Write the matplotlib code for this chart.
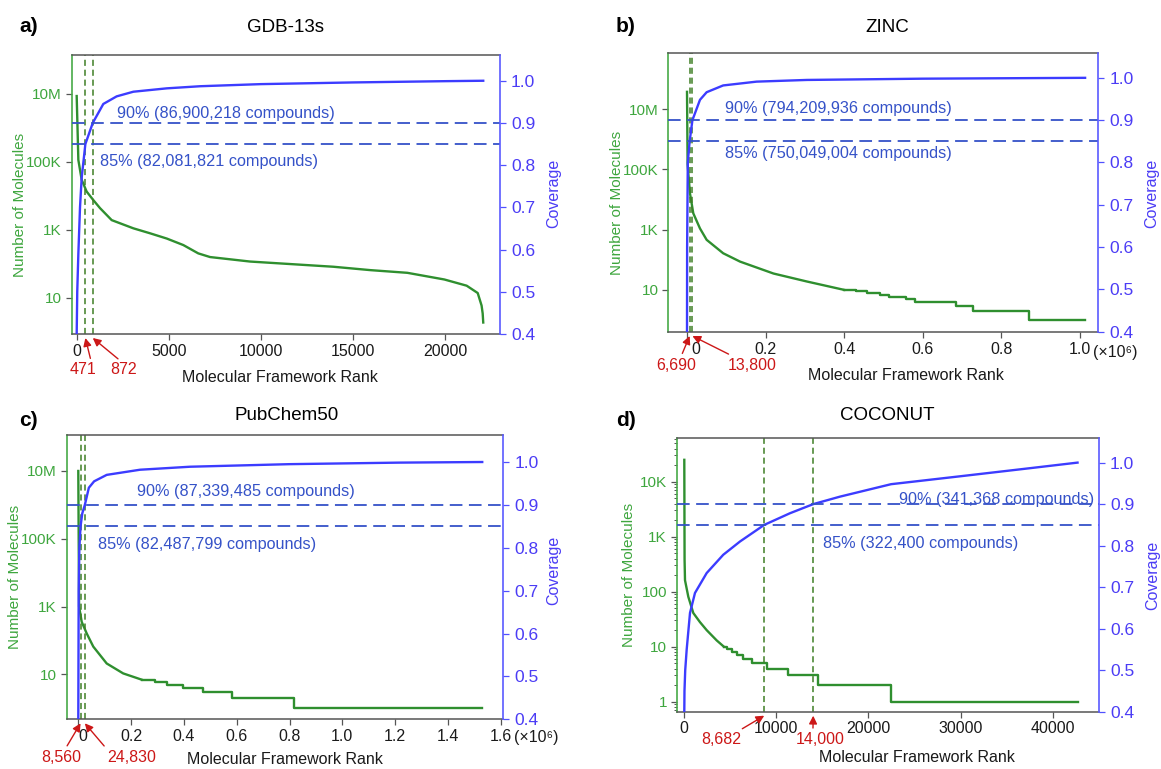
import matplotlib.pyplot as plt
from matplotlib.ticker import NullLocator, LogLocator, NullFormatter
from matplotlib.transforms import ScaledTranslation

plt.rcParams['font.family'] = ['Liberation Sans', 'DejaVu Sans']
plt.rcParams['font.size'] = 12

GREEN = '#2f8f2f'
GREEN_TXT = '#3ea63e'
GREEN_VL = '#3f7f25'
BLUE = '#3c3cff'
BLUE_TXT = '#4b3cf5'
BLUE_HL = '#3552c8'
RED = '#cc1717'
GREY = '#555555'

# -------------------------------------------------
# data
# -------------------------------------------------
# a) GDB-13s
gdb_rank = [0, 90, 270, 540, 900, 1265, 1900, 3075, 3980, 4890, 5790, 6600, 7240,
            9410, 13930, 15940, 17950, 19960, 21170, 21770, 21980, 22040, 22070]
gdb_count = [8.7e6, 1.15e5, 3.0e4, 1.35e4, 7600, 4400, 1950, 1120, 800, 560, 360, 205, 160,
             118, 83, 66, 55, 35, 23, 14, 6, 3.5, 1.9]
gdb_cov_rank = [0, 30, 90, 180, 270, 471, 872, 1445, 2170, 3075, 4890, 6700, 10000, 15000, 20000, 22070]
gdb_cov = [0.40, 0.50, 0.59, 0.70, 0.77, 0.85, 0.90, 0.945, 0.963, 0.974, 0.982, 0.987, 0.992, 0.996, 0.999, 1.0]
gdb_cuts = [471, 872]
gdb_cut_labels = ['471', '872']
gdb_notes = ['90% (86,900,218 compounds)', '85% (82,081,821 compounds)']

# b) ZINC
zinc_rank = [0, 1500, 7600, 16000, 33000, 50000, 92000, 135000, 220000, 305000, 400000]
zinc_count = [3.8e7, 1.5e5, 1.6e4, 3500, 1100, 460, 165, 87, 35, 19, 10]
zinc_step_rank = [400000, 430000, 458000, 490000, 514000, 557000, 580000, 685000, 728600, 871000, 1013000]
zinc_step_count = [10, 9, 8, 7, 6, 5, 4, 3, 2, 1, 1]
zinc_cov_rank = [0, 300, 2000, 6690, 13800, 33000, 50000, 92000, 177000, 305000, 600000, 1013000]
zinc_cov = [0.40, 0.60, 0.80, 0.85, 0.90, 0.948, 0.966, 0.982, 0.991, 0.995, 0.998, 1.0]
zinc_cuts = [6690, 13800]
zinc_cut_labels = ['6,690', '13,800']
zinc_notes = ['90% (794,209,936 compounds)', '85% (750,049,004 compounds)']

# c) PubChem50
pub_rank = [0, 3000, 12900, 31800, 56800, 107600, 170000, 240000]
pub_count = [1.0e7, 1000, 355, 162, 66, 21, 10.7, 7]
pub_step_rank = [240000, 292000, 337000, 397000, 474000, 582000, 818000, 1530000]
pub_step_count = [7, 6, 5, 4, 3, 2, 1, 1]
pub_cov_rank = [0, 1500, 4000, 8560, 15000, 24830, 40000, 60000, 107600, 233700, 423000, 800000, 1218000, 1530000]
pub_cov = [0.40, 0.70, 0.80, 0.85, 0.88, 0.90, 0.94, 0.955, 0.970, 0.982, 0.989, 0.995, 0.9986, 1.0]
pub_cuts = [8560, 24830]
pub_cut_labels = ['8,560', '24,830']
pub_notes = ['90% (87,339,485 compounds)', '85% (82,487,799 compounds)']

# d) COCONUT
coco_rank = [0, 30, 76, 435, 977, 1700, 2430, 3520, 4300]
coco_count = [25000, 380, 162, 81, 41, 28, 20, 13, 10]
coco_step_rank = [4300, 4600, 5150, 5700, 6400, 7300, 8950, 11300, 14550, 22450, 42700]
coco_step_count = [10, 9, 8, 7, 6, 5, 4, 3, 2, 1, 1]
coco_cov_rank = [0, 20, 100, 260, 620, 1160, 2430, 4230, 6050, 8682, 11470, 14000, 16900, 22450, 29930, 36930, 42700]
coco_cov = [0.40, 0.45, 0.50, 0.55, 0.638, 0.686, 0.734, 0.778, 0.81, 0.85, 0.878, 0.90, 0.918, 0.948, 0.967, 0.985, 1.0]
coco_cuts = [8682, 14000]
coco_cut_labels = ['8,682', '14,000']
coco_notes = ['90% (341,368 compounds)', '85% (322,400 compounds)']

cov_ticks = [0.4, 0.5, 0.6, 0.7, 0.8, 0.9, 1.0]
cov_levels = [0.9, 0.85]

# -------------------------------------------------
# figure, laid out in pixels of the 1161x769 canvas
# -------------------------------------------------
W, H = 1161, 769
fig = plt.figure(figsize=(W / 100, H / 100), dpi=100)

FS_TICK = 11.5
FS_LAB = 11.5
FS_NOTE = 11.7
FS_RED = 11.5


def draw(spec):
    l, t, r, b = spec['box']
    ax = fig.add_axes([l / W, 1 - b / H, (r - l) / W, (b - t) / H])
    ax2 = ax.twinx()
    ph = b - t

    # green: molecules per framework
    ax.set_yscale('log')
    ax.plot(spec['rank'], spec['count'], color=GREEN, lw=1.7)
    if spec['step_rank'] is not None:
        ax.step(spec['step_rank'], spec['step_count'], where='post', color=GREEN, lw=1.7)
    for c in spec['cuts']:
        ax.axvline(c, color=GREEN_VL, lw=1.1, dashes=(4, 2.5))

    # blue: cumulative coverage
    ax2.plot(spec['cov_rank'], spec['cov'], color=BLUE, lw=1.7)
    for lvl in cov_levels:
        ax2.axhline(lvl, color=BLUE_HL, lw=1.3, dashes=(7, 3.6))

    ax.set_xlim(spec['xlim'])
    ax.set_ylim(spec['ylim'])
    ax2.set_ylim(spec['ylim2'])

    ax.set_xticks(spec['xticks'])
    ax.set_xticklabels(spec['xticklabels'])
    ax.set_yticks(spec['yticks'])
    ax.set_yticklabels(spec['yticklabels'])
    if spec['minor']:
        ax.yaxis.set_minor_locator(LogLocator(base=10, subs=range(2, 10), numticks=20))
        ax.yaxis.set_minor_formatter(NullFormatter())
    else:
        ax.yaxis.set_minor_locator(NullLocator())
    ax2.set_yticks(cov_ticks)
    ax2.set_yticklabels([f'{v:.1f}' for v in cov_ticks])

    ax.tick_params(axis='x', length=4, width=0.9, color=GREY, labelcolor='#1a1a1a', pad=3, labelsize=FS_TICK)
    ax.tick_params(axis='y', which='major', length=4, width=0.9, color=GREY, labelcolor=GREEN_TXT,
                   pad=3, labelsize=11)
    ax.tick_params(axis='y', which='minor', length=2.5, width=0.7, color=GREY)
    ax2.tick_params(axis='y', length=4, width=0.9, color='#5050ff', labelcolor=BLUE_TXT, pad=4, labelsize=12.5)

    for s in ['top', 'bottom']:
        ax.spines[s].set_color(GREY)
        ax.spines[s].set_linewidth(1.1)
        ax2.spines[s].set_visible(False)
    ax.spines['right'].set_visible(False)
    ax2.spines['left'].set_visible(False)
    ax.spines['left'].set_color('#48aa48')
    ax.spines['left'].set_linewidth(1.2)
    ax2.spines['right'].set_color('#5a5aff')
    ax2.spines['right'].set_linewidth(1.2)

    # shift "0" label, add the x10^6 note
    if spec['zero_dx']:
        lab = ax.get_xticklabels()[0]
        lab.set_transform(lab.get_transform() + ScaledTranslation(spec['zero_dx'] / 100, 0, fig.dpi_scale_trans))
    if spec['scale_note']:
        ax.annotate('(×10⁶)', xy=(spec['xticks'][-1], 0), xycoords=('data', 'axes fraction'),
                    xytext=(13, spec['note_dy']), textcoords='offset pixels', ha='left', va='center',
                    fontsize=FS_TICK, color='#1a1a1a', annotation_clip=False)

    # axis labels
    ax.set_xlabel('Molecular Framework Rank', fontsize=FS_LAB, color='#1a1a1a')
    xl_x, xl_y = spec['xlabel_at']
    ax.xaxis.set_label_coords((xl_x - l) / (r - l), (b - (xl_y - 8)) / ph)
    ax.set_ylabel('Number of Molecules', fontsize=11, color=GREEN_TXT)
    yl_x, yl_y = spec['ylabel_at']
    ax.yaxis.set_label_coords((yl_x + 8 - l) / (r - l), (b - yl_y) / ph)
    ax2.set_ylabel('Coverage', fontsize=FS_LAB, color=BLUE_TXT)
    cl_x, cl_y = spec['covlabel_at']
    ax2.yaxis.set_label_coords((cl_x - 8 - l) / (r - l), (b - cl_y) / ph)

    # coverage level notes
    for note, (nx, ny) in zip(spec['notes'], spec['note_pos']):
        ax2.text(nx, ny, note, ha='left', va='center', color=BLUE_HL, fontsize=FS_NOTE)

    # red arrows to the cut-off ranks
    for c, lab, (dx, dy, rx) in zip(spec['cuts'], spec['cut_labels'], spec['arrows']):
        ax.annotate(lab, xy=(c, -4 / ph), xycoords=('data', 'axes fraction'),
                    xytext=(dx, dy), textcoords='offset pixels', ha='center', va='center',
                    color=RED, fontsize=FS_RED, annotation_clip=False,
                    arrowprops=dict(arrowstyle='-|>', color=RED, lw=1.0, mutation_scale=12,
                                    shrinkA=1, shrinkB=0, relpos=(rx, 1.0)))

    tx, ty = spec['title_at']
    fig.text(tx / W, 1 - ty / H, spec['title'], ha='center', va='center', fontsize=13.5)
    px, py = spec['panel_at']
    fig.text(px / W, 1 - py / H, spec['panel'], ha='center', va='center', fontsize=15, fontweight='bold')


panels = [
    dict(panel='a)', title='GDB-13s', box=(71.7, 55, 500, 334),
         rank=gdb_rank, count=gdb_count, step_rank=None, step_count=None,
         cov_rank=gdb_cov_rank, cov=gdb_cov, cuts=gdb_cuts, cut_labels=gdb_cut_labels, notes=gdb_notes,
         xlim=(-271, 22980), ylim=(0.873, 1.40e8), ylim2=(0.4, 1.061),
         xticks=[0, 5000, 10000, 15000, 20000], xticklabels=['0', '5000', '10000', '15000', '20000'],
         yticks=[10, 1e3, 1e5, 1e7], yticklabels=['10', '1K', '100K', '10M'], minor=False,
         zero_dx=0, scale_note=False, note_dy=0,
         note_pos=[(2170, 0.923), (1265, 0.809)],
         arrows=[(-2, -32, 0.8), (31, -32, 0.45)],
         xlabel_at=(280, 378), ylabel_at=(19, 205), covlabel_at=(554, 193),
         title_at=(285, 28), panel_at=(29, 27)),
    dict(panel='b)', title='ZINC', box=(668.3, 53.3, 1098.3, 332),
         rank=zinc_rank, count=zinc_count, step_rank=zinc_step_rank, step_count=zinc_step_count,
         cov_rank=zinc_cov_rank, cov=zinc_cov, cuts=zinc_cuts, cut_labels=zinc_cut_labels, notes=zinc_notes,
         xlim=(-47600, 1.0466e6), ylim=(0.399, 7.25e8), ylim2=(0.399, 1.058),
         xticks=[0, 2e5, 4e5, 6e5, 8e5, 1e6], xticklabels=['0', '0.2', '0.4', '0.6', '0.8', '1.0'],
         yticks=[10, 1e3, 1e5, 1e7], yticklabels=['10', '1K', '100K', '10M'], minor=False,
         zero_dx=9, scale_note=True, note_dy=-20,
         note_pos=[(0.0967e6, 0.928), (0.0967e6, 0.82)],
         arrows=[(-13, -29, 0.6), (60, -29, 0.15)],
         xlabel_at=(906, 376), ylabel_at=(616, 203), covlabel_at=(1152, 193),
         title_at=(887, 27), panel_at=(626, 27)),
    dict(panel='c)', title='PubChem50', box=(66.7, 435, 503.3, 719.3),
         rank=pub_rank, count=pub_count, step_rank=pub_step_rank, step_count=pub_step_count,
         cov_rank=pub_cov_rank, cov=pub_cov, cuts=pub_cuts, cut_labels=pub_cut_labels, notes=pub_notes,
         xlim=(-43900, 1.6098e6), ylim=(0.474, 1.15e8), ylim2=(0.4, 1.063),
         xticks=[0, 2e5, 4e5, 6e5, 8e5, 1e6, 1.2e6, 1.4e6, 1.6e6],
         xticklabels=['0', '0.2', '0.4', '0.6', '0.8', '1.0', '1.2', '1.4', '1.6'],
         yticks=[10, 1e3, 1e5, 1e7], yticklabels=['10', '1K', '100K', '10M'], minor=False,
         zero_dx=5, scale_note=True, note_dy=-18,
         note_pos=[(0.221e6, 0.931), (0.076e6, 0.807)],
         arrows=[(-19, -34, 0.58), (47, -34, 0.0)],
         xlabel_at=(285, 760), ylabel_at=(14, 577), covlabel_at=(554, 570),
         title_at=(287, 416), panel_at=(28, 421)),
    dict(panel='d)', title='COCONUT', box=(676.7, 437.7, 1099, 711.7),
         rank=coco_rank, count=coco_count, step_rank=coco_step_rank, step_count=coco_step_count,
         cov_rank=coco_cov_rank, cov=coco_cov, cuts=coco_cuts, cut_labels=coco_cut_labels, notes=coco_notes,
         xlim=(-825, 45030), ylim=(0.658, 6.31e4), ylim2=(0.401, 1.060),
         xticks=[0, 10000, 20000, 30000, 40000], xticklabels=['0', '10000', '20000', '30000', '40000'],
         yticks=[1, 10, 100, 1e3, 1e4], yticklabels=['1', '10', '100', '1K', '10K'], minor=True,
         zero_dx=0, scale_note=False, note_dy=0,
         note_pos=[(23350, 0.912), (15030, 0.806)],
         arrows=[(-43, -24, 0.88), (7, -24, 0.35)],
         xlabel_at=(917, 758), ylabel_at=(628, 575), covlabel_at=(1153, 575),
         title_at=(887, 416), panel_at=(626, 421)),
]

for spec in panels:
    draw(spec)

fig.savefig('out.png', dpi=100)
